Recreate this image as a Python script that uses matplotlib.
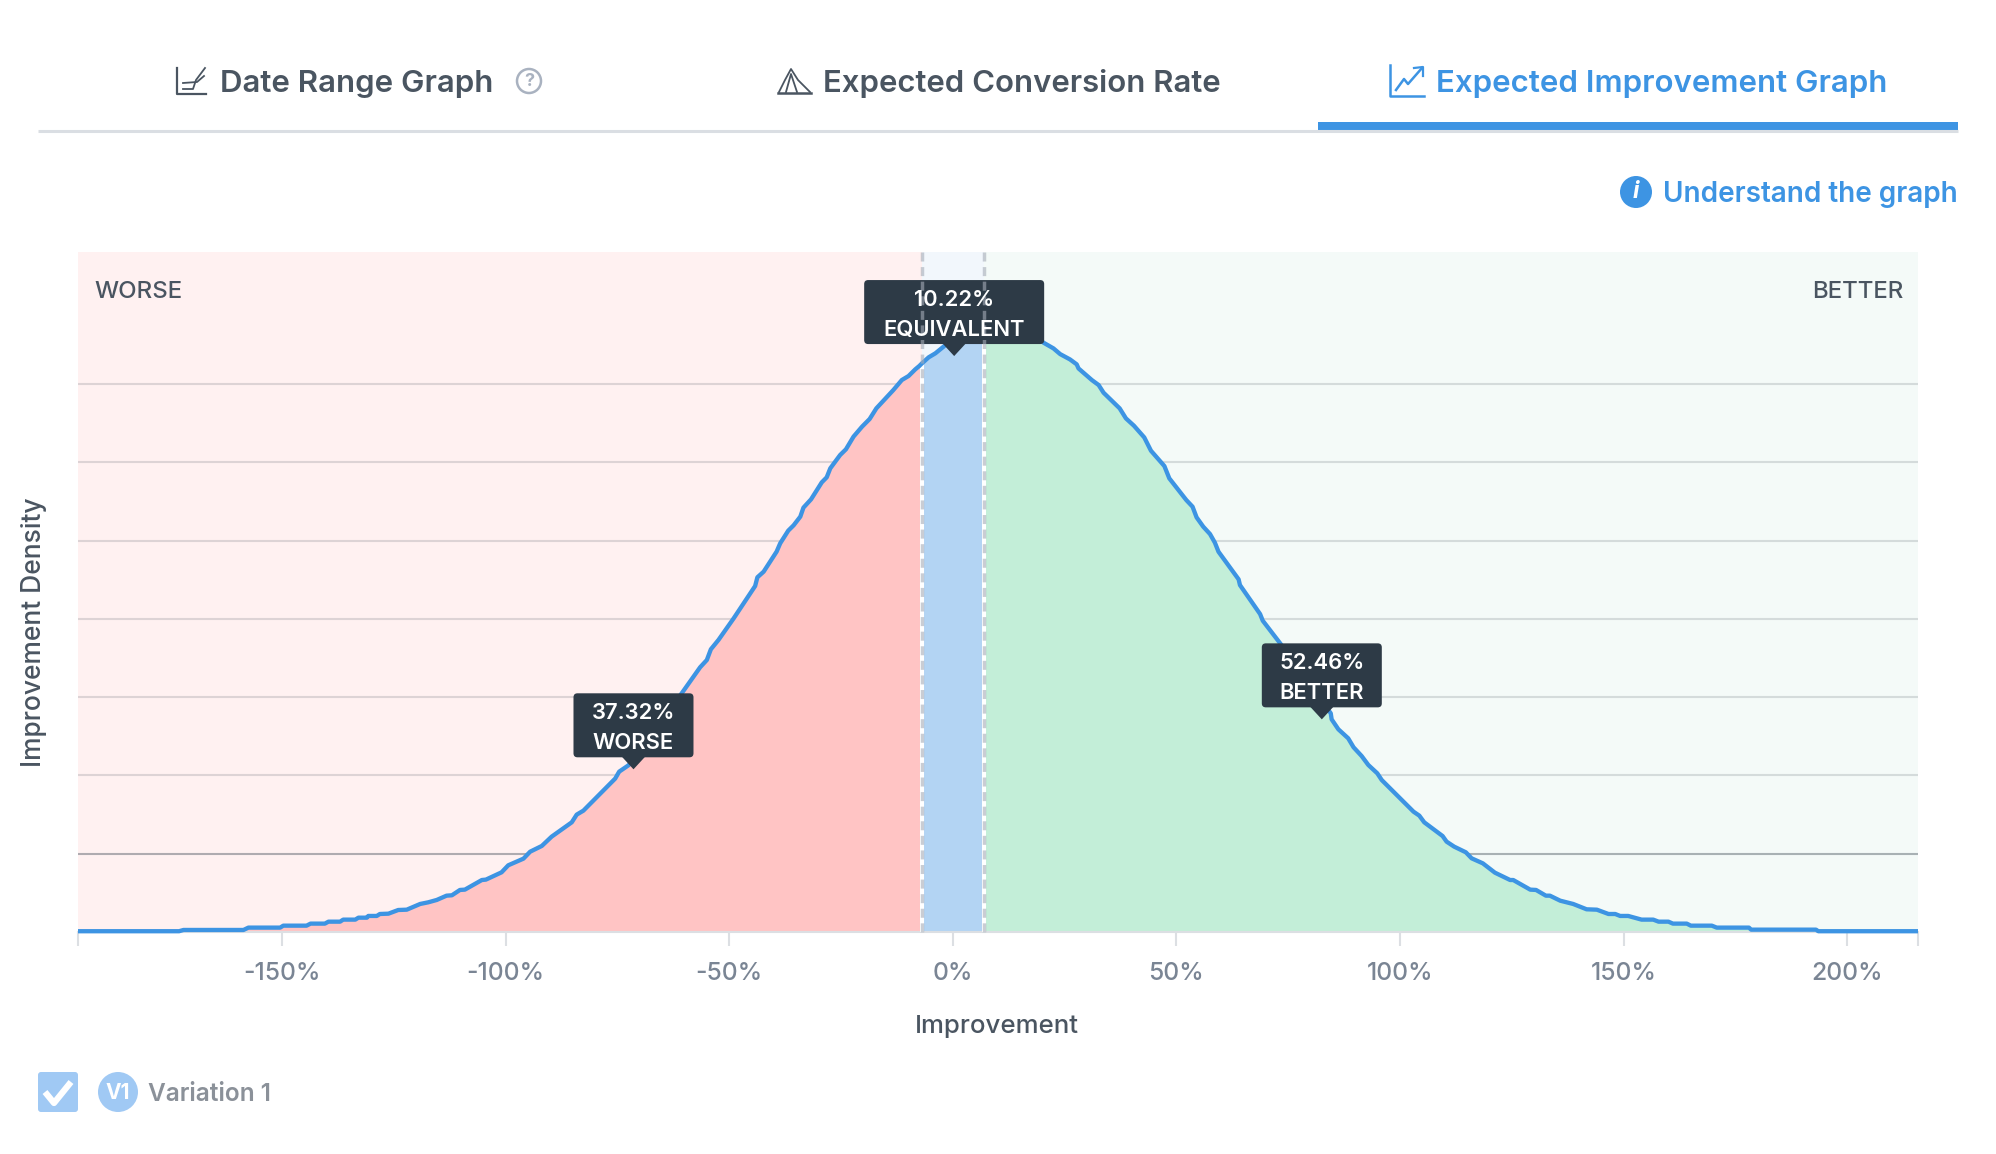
#!/usr/bin/env python3

"""Expected improvement density chart with the tab bar around it."""

import numpy as np
import matplotlib
matplotlib.use("Agg")
from matplotlib import pyplot as plt
from matplotlib.patches import Circle, FancyBboxPatch, Polygon

improvement = [
    -195.6, -173.0, -172.0, -168.3, -158.6, -157.5, -150.4, -149.7, -144.5, -143.6,
    -140.4, -139.6, -137.0, -136.3, -133.6, -132.9, -131.0, -130.7, -128.8, -128.1,
    -126.2, -124.0, -122.1, -119.1, -117.3, -115.4, -113.2, -112.0, -110.2, -109.1,
    -105.3, -104.4, -100.9, -99.4, -96.0, -94.5, -91.9, -89.7, -85.2, -84.1,
    -82.6, -75.5, -74.6, -72.5, -60.6, -58.4, -56.5, -55.0, -54.1, -52.4,
    -49.0, -44.2, -43.7, -42.3, -39.4, -38.6, -36.8, -35.6, -34.1, -33.4,
    -31.7, -29.3, -28.2, -27.4, -25.2, -23.9, -22.2, -20.3, -18.6, -17.1,
    -13.3, -11.4, -9.9, -8.4, -7.5, -6.9, -5.4, -3.9, -2.1, 0.0,
    4.0, 9.0, 14.0, 18.0, 20.3, 22.5, 24.0, 26.2, 27.7, 28.1,
    31.1, 32.6, 33.7, 37.3, 38.7, 40.5, 42.8, 44.3, 47.3, 48.4,
    52.2, 53.6, 54.5, 56.0, 57.5, 58.6, 59.4, 63.9, 64.2, 68.7,
    69.3, 73.2, 84.5, 84.7, 86.2, 88.4, 89.6, 91.4, 92.9, 94.9,
    95.9, 103.0, 104.3, 105.4, 109.5, 110.4, 112.1, 114.7, 116.0, 118.5,
    121.2, 124.6, 125.3, 129.1, 130.4, 132.6, 133.5, 135.8, 138.7, 141.7,
    144.0, 146.6, 148.1, 149.2, 151.0, 154.0, 156.6, 157.8, 160.0, 161.0,
    164.1, 165.0, 169.7, 170.8, 178.0, 178.5, 193.0, 193.5, 215.8,
]
density = [
    0.010, 0.010, 0.026, 0.026, 0.026, 0.056, 0.056, 0.081, 0.081, 0.107,
    0.107, 0.132, 0.132, 0.158, 0.158, 0.183, 0.183, 0.205, 0.205, 0.230,
    0.234, 0.281, 0.285, 0.358, 0.379, 0.409, 0.464, 0.469, 0.537, 0.541,
    0.664, 0.669, 0.762, 0.852, 0.937, 1.026, 1.099, 1.218, 1.401, 1.499,
    1.550, 1.959, 2.048, 2.130, 3.050, 3.227, 3.381, 3.474, 3.611, 3.730,
    4.006, 4.419, 4.530, 4.602, 4.858, 4.964, 5.126, 5.194, 5.305, 5.420,
    5.526, 5.743, 5.807, 5.922, 6.092, 6.165, 6.327, 6.454, 6.552, 6.688,
    6.922, 7.050, 7.101, 7.186, 7.229, 7.263, 7.340, 7.391, 7.475, 7.580,
    7.720, 7.820, 7.780, 7.630, 7.526, 7.454, 7.381, 7.313, 7.250, 7.198,
    7.049, 6.986, 6.888, 6.688, 6.560, 6.466, 6.317, 6.147, 5.951, 5.794,
    5.517, 5.432, 5.296, 5.176, 5.083, 4.972, 4.857, 4.504, 4.431, 4.061,
    3.976, 3.686, 2.793, 2.716, 2.589, 2.474, 2.359, 2.248, 2.133, 2.027,
    1.941, 1.537, 1.486, 1.401, 1.226, 1.154, 1.090, 1.018, 0.941, 0.877,
    0.758, 0.664, 0.664, 0.541, 0.537, 0.464, 0.464, 0.400, 0.358, 0.290,
    0.285, 0.230, 0.230, 0.205, 0.205, 0.158, 0.158, 0.132, 0.132, 0.107,
    0.107, 0.081, 0.081, 0.056, 0.056, 0.030, 0.030, 0.010, 0.010,
]

x_ticks = [-150, -100, -50, 0, 50, 100, 150, 200]
x_edges = [-195.6, 215.8]
grid_levels = [1, 2, 3, 4, 5, 6, 7]
y_top = 8.685
equiv_bound = 7.0

tip_x = [-71.4, 0.3, 82.5]
tip_y = [2.078, 7.356, 2.716]
tip_pct = ["37.32%", "10.22%", "52.46%"]
tip_name = ["WORSE", "EQUIVALENT", "BETTER"]
tip_half_width = [60, 90, 60]

BLUE = "#3d94e3"
DARK = "#4a5561"
TIP = "#2d3a46"
LIGHT_BLUE = "#a0c9f4"

plt.rcParams["font.family"] = ["Inter", "DejaVu Sans"]

W, H = 1996, 1154
fig = plt.figure(figsize=(W / 100, H / 100), dpi=100)
fig.patch.set_facecolor("white")

# main axes, placed to the pixel
left, right, top, bottom = 78, 1918, 252, 932
ax = fig.add_axes([left / W, 1 - bottom / H, (right - left) / W, (bottom - top) / H])
ax.set_xlim(*x_edges)
ax.set_ylim(0, y_top)

ax.axvspan(x_edges[0], -equiv_bound, color="#fff1f1", lw=0, zorder=0)
ax.axvspan(-equiv_bound, equiv_bound, color="#f2f7fc", lw=0, zorder=0)
ax.axvspan(equiv_bound, x_edges[1], color="#f4faf8", lw=0, zorder=0)

for level in grid_levels:
    alpha = 0.38 if level == 1 else 0.16
    ax.axhline(level, color="#2d3a46", alpha=alpha, lw=1.5, zorder=1)


def section(lo, hi):
    """Curve points between lo and hi, with the ends added on the curve."""
    xs = np.array(improvement)
    ys = np.array(density)
    inside = (xs > lo) & (xs < hi)
    px = np.concatenate([[lo], xs[inside], [hi]])
    py = np.concatenate([[np.interp(lo, xs, ys)], ys[inside], [np.interp(hi, xs, ys)]])
    return px, py


for lo, hi, colour in [
    (x_edges[0], -equiv_bound, "#ffc4c4"),
    (-equiv_bound, equiv_bound, "#b3d4f3"),
    (equiv_bound, x_edges[1], "#c3eed8"),
]:
    px, py = section(lo, hi)
    ax.fill_between(px, 0, py, color=colour, lw=0, zorder=2)

for bound in (-equiv_bound, equiv_bound):
    ax.vlines(bound, 0, np.interp(bound, improvement, density), color="white", lw=2.9, zorder=3)

ax.plot(improvement, density, color=BLUE, lw=3.1, solid_joinstyle="round",
        solid_capstyle="butt", clip_on=False, zorder=4)

for side in ("left", "right", "top"):
    ax.spines[side].set_visible(False)
ax.spines["bottom"].set_color("#dcdfe3")
ax.spines["bottom"].set_linewidth(1.5)
ax.set_yticks([])
ax.set_xticks(x_ticks + x_edges, minor=False)
ax.set_xticklabels([f"{v}%" for v in x_ticks] + ["", ""], fontsize=17.8, fontweight="medium", color="#7a8594")
ax.tick_params(axis="x", length=10, width=1.5, color="#dcdfe3", pad=11.5)

# everything else goes on a pixel overlay
ui = fig.add_axes([0, 0, 1, 1], zorder=5)
ui.set_xlim(0, W)
ui.set_ylim(H, 0)
ui.axis("off")
ui.patch.set_visible(False)


def to_px(x, y):
    """Data position of the chart as overlay pixels."""
    dx, dy = ax.transData.transform((x, y))
    return dx, H - dy


# tooltips
for x, y, pct, name, half in zip(tip_x, tip_y, tip_pct, tip_name, tip_half_width):
    tx, ty = to_px(x, y)
    box_bottom = ty - 12
    box_top = box_bottom - 64
    ui.add_patch(FancyBboxPatch((tx - half + 3, box_top + 3), 2 * half - 6, 58,
                                boxstyle="round,pad=3,rounding_size=4", fc=TIP, ec="none", zorder=2))
    ui.add_patch(Polygon([(tx - 12, box_bottom - 1), (tx + 12, box_bottom - 1), (tx, ty)],
                         fc=TIP, ec="none", zorder=2))
    ui.text(tx, box_top + 20, pct, color="white", fontsize=15.8, fontweight="semibold",
            ha="center", va="center", zorder=4)
    ui.text(tx, box_top + 49.5, name, color="white", fontsize=15.8, fontweight="semibold",
            ha="center", va="center", zorder=4)

# equivalence bounds run over the tooltip
for bound in (-equiv_bound, equiv_bound):
    bx, _ = to_px(bound, 0)
    ui.plot([bx, bx], [top, bottom], color=(0.65, 0.68, 0.72, 0.6), lw=2.5,
            linestyle=(0, (2.6, 1.6)), zorder=3)

# tab bar
ui.plot([38, 1958], [131, 131], color="#dadee3", lw=2.2, solid_capstyle="butt")
ui.fill_between([1318, 1958], 122, 130, color=BLUE, lw=0)
ui.text(220, 92, "Date Range Graph", color=DARK, fontsize=22.5, fontweight="semibold", va="baseline")
ui.text(823, 92, "Expected Conversion Rate", color=DARK, fontsize=22.4, fontweight="semibold", va="baseline")
ui.text(1436, 92, "Expected Improvement Graph", color=BLUE, fontsize=22.5, fontweight="semibold", va="baseline")

# tab icons
ui.plot([177, 177, 206], [68, 94, 94], color=DARK, lw=1.6)
ui.plot([183, 193, 196, 205], [89, 89, 80, 68], color=DARK, lw=1.3)
ui.plot([183, 197, 204], [83, 82, 76], color=DARK, lw=1.3)
ui.plot([778, 811], [93, 93], color=DARK, lw=1.8)
ui.plot([779, 785, 791, 798, 810], [92, 80, 69, 80, 92], color=DARK, lw=1.3)
ui.plot([786, 791, 797], [92, 74, 92], color=DARK, lw=1.3)
ui.plot([1390, 1390, 1424], [65, 96, 96], color=BLUE, lw=1.8)
ui.plot([1396, 1404, 1408, 1422], [90, 79, 84, 68], color=BLUE, lw=1.8)
ui.plot([1414, 1423, 1423], [68, 67, 76], color=BLUE, lw=1.6)
ui.add_patch(Circle((529, 81), 12, fc="none", ec="#a9b2c0", lw=1.8))
ui.text(529, 81.5, "?", color="#a9b2c0", fontsize=13, fontweight="bold", ha="center", va="center")

# link above the chart
ui.add_patch(Circle((1636, 192), 16, fc=BLUE, ec="none"))
ui.text(1636, 192, "i", color="white", fontsize=17, fontweight="bold", style="italic", ha="center", va="center")
ui.text(1958, 194.5, "Understand the graph", color=BLUE, fontsize=20.1, fontweight="semibold", ha="right", va="center")

# region names and axis titles
ui.text(94, 291.5, "WORSE", color=DARK, fontsize=17.3, fontweight="medium", va="center")
ui.text(1904, 291.5, "BETTER", color=DARK, fontsize=17.3, fontweight="medium", ha="right", va="center")
ui.text(997, 1026, "Improvement", color=DARK, fontsize=18.6, fontweight="medium", ha="center", va="center")
ui.text(34, 632, "Improvement Density", color=DARK, fontsize=19, fontweight="medium",
        rotation=90, ha="center", va="center")

# legend
ui.add_patch(FancyBboxPatch((41, 1075), 34, 34, boxstyle="round,pad=3,rounding_size=3", fc=LIGHT_BLUE, ec="none"))
ui.plot([45, 54, 71], [1092, 1103, 1082], color="white", lw=4.5, solid_capstyle="butt")
ui.add_patch(Circle((118, 1092), 20, fc=LIGHT_BLUE, ec="none"))
ui.text(118, 1093, "V1", color="white", fontsize=15, fontweight="bold", ha="center", va="center")
ui.text(148, 1094.5, "Variation 1", color="#8b9199", fontsize=17.6, fontweight="semibold", va="center")

fig.savefig("out.png", dpi=100)
plt.close(fig)
